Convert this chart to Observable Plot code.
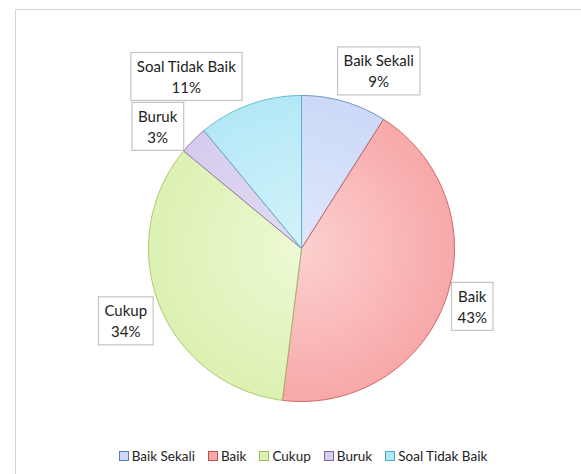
<!DOCTYPE html>
<html>
<head>
<meta charset="utf-8">
<script src="https://cdn.jsdelivr.net/npm/d3@7"></script>
<script src="https://cdn.jsdelivr.net/npm/@observablehq/plot@0.6"></script>
<style>
  html, body { margin: 0; padding: 0; background: #fff; }
  #frame { position: absolute; left: 15px; top: 9px; width: 620px; height: 520px; border: 1px solid #d4d4d4; box-sizing: border-box; }
  #chart { position: absolute; left: 0; top: 0; width: 581px; }
  #legend { position: absolute; left: 0; top: 448px; width: 606px; display: flex; justify-content: center; gap: 13px;
            font-family: Lato, "Open Sans", sans-serif; font-size: 13.5px; color: #222; }
  #legend .item { display: flex; align-items: center; gap: 3px; }
  #legend .sw { width: 8px; height: 8px; border: 1px solid; }
</style>
</head>
<body>
<div id="frame"></div>
<div id="chart"></div>
<script>
// ---- data ----
const categories = ["Baik Sekali", "Baik", "Cukup", "Buruk", "Soal Tidak Baik"];
const percents = [9, 43, 34, 3, 11];
const fillInner = ["#dfe7fb", "#fcd0d0", "#edf9d4", "#e4dcf3", "#d3f3fb"];
const fillOuter = ["#ccd9f7", "#f8a8a8", "#dcf1b2", "#d6cbed", "#b4e8f6"];
const strokeColors = ["#4f81bd", "#c0504d", "#9bbb59", "#8064a2", "#4bacc6"];
// label nudges (px) relative to the outside mid-angle anchor
const labelNudge = [[26, -2], [-2, -5], [-5, 4], [-14, 7], [-53, 0]];

// ---- layout ----
const W = 581, H = 440, cx = 301, cy = 248, R = 153;

const pie = d3.pie().sort(null).value(d => d)(percents);
const pts = [];
pie.forEach((p, i) => {
  const id = categories[i];
  pts.push({k: id, x: 0, y: 0, fill: `url(#grad${i})`, stroke: strokeColors[i]});
  const n = Math.max(2, Math.ceil((p.endAngle - p.startAngle) / (Math.PI / 180)));
  for (let j = 0; j <= n; j++) {
    const a = p.startAngle + (p.endAngle - p.startAngle) * j / n;
    pts.push({k: id, x: Math.sin(a), y: Math.cos(a), fill: `url(#grad${i})`, stroke: strokeColors[i]});
  }
  pts.push({k: id, x: 0, y: 0, fill: `url(#grad${i})`, stroke: strokeColors[i]});
});

const labelMarks = pie.map((p, i) => {
  const a = (p.startAngle + p.endAngle) / 2;
  const d = {x: 1.2 * Math.sin(a), y: 1.2 * Math.cos(a), t: `${categories[i]}\n${percents[i]}%`};
  return Plot.text([d], {
    x: "x", y: "y", text: "t", dx: labelNudge[i][0], dy: labelNudge[i][1],
    fontSize: 15, lineHeight: 1.4, fill: "#222", className: "pielabel"
  });
});

const plot = Plot.plot({
  width: W, height: H, margin: 0,
  style: {fontFamily: "Lato, 'Open Sans', sans-serif", background: "transparent", overflow: "visible"},
  x: {domain: [-cx / R, (W - cx) / R], axis: null},
  y: {domain: [-(H - cy) / R, cy / R], axis: null},
  color: {type: "identity"},
  marks: [
    Plot.line(pts, {x: "x", y: "y", z: "k", fill: "fill", stroke: "stroke", strokeWidth: 1, strokeOpacity: 0.8, curve: "linear"}),
    ...labelMarks
  ]
});

document.getElementById("chart").appendChild(plot);

// gradients
const svg = d3.select(plot);
const defs = svg.insert("defs", ":first-child");
const px = plot.scale("x").apply(0), py = plot.scale("y").apply(0);
categories.forEach((c, i) => {
  const g = defs.append("radialGradient").attr("id", `grad${i}`)
    .attr("gradientUnits", "userSpaceOnUse").attr("cx", px).attr("cy", py).attr("r", R);
  g.append("stop").attr("offset", "0%").attr("stop-color", fillInner[i]);
  g.append("stop").attr("offset", "100%").attr("stop-color", fillOuter[i]);
});

// boxes behind labels
svg.selectAll("g.pielabel text").each(function () {
  const b = this.getBBox();
  const padX = 6, padY = 4.5;
  d3.select(this.parentNode).insert("rect", () => this)
    .attr("transform", this.getAttribute("transform"))
    .attr("x", b.x - padX).attr("y", b.y - padY)
    .attr("width", b.width + 2 * padX).attr("height", b.height + 2 * padY)
    .attr("fill", "#fff").attr("stroke", "#c4c4c4").attr("stroke-width", 1.2);
});

// legend
const legend = d3.select("#chart").append("div").attr("id", "legend");
categories.forEach((c, i) => {
  const it = legend.append("div").attr("class", "item");
  it.append("div").attr("class", "sw").style("border-color", strokeColors[i]).style("background", fillOuter[i]);
  it.append("span").text(c);
});
</script>
</body>
</html>
